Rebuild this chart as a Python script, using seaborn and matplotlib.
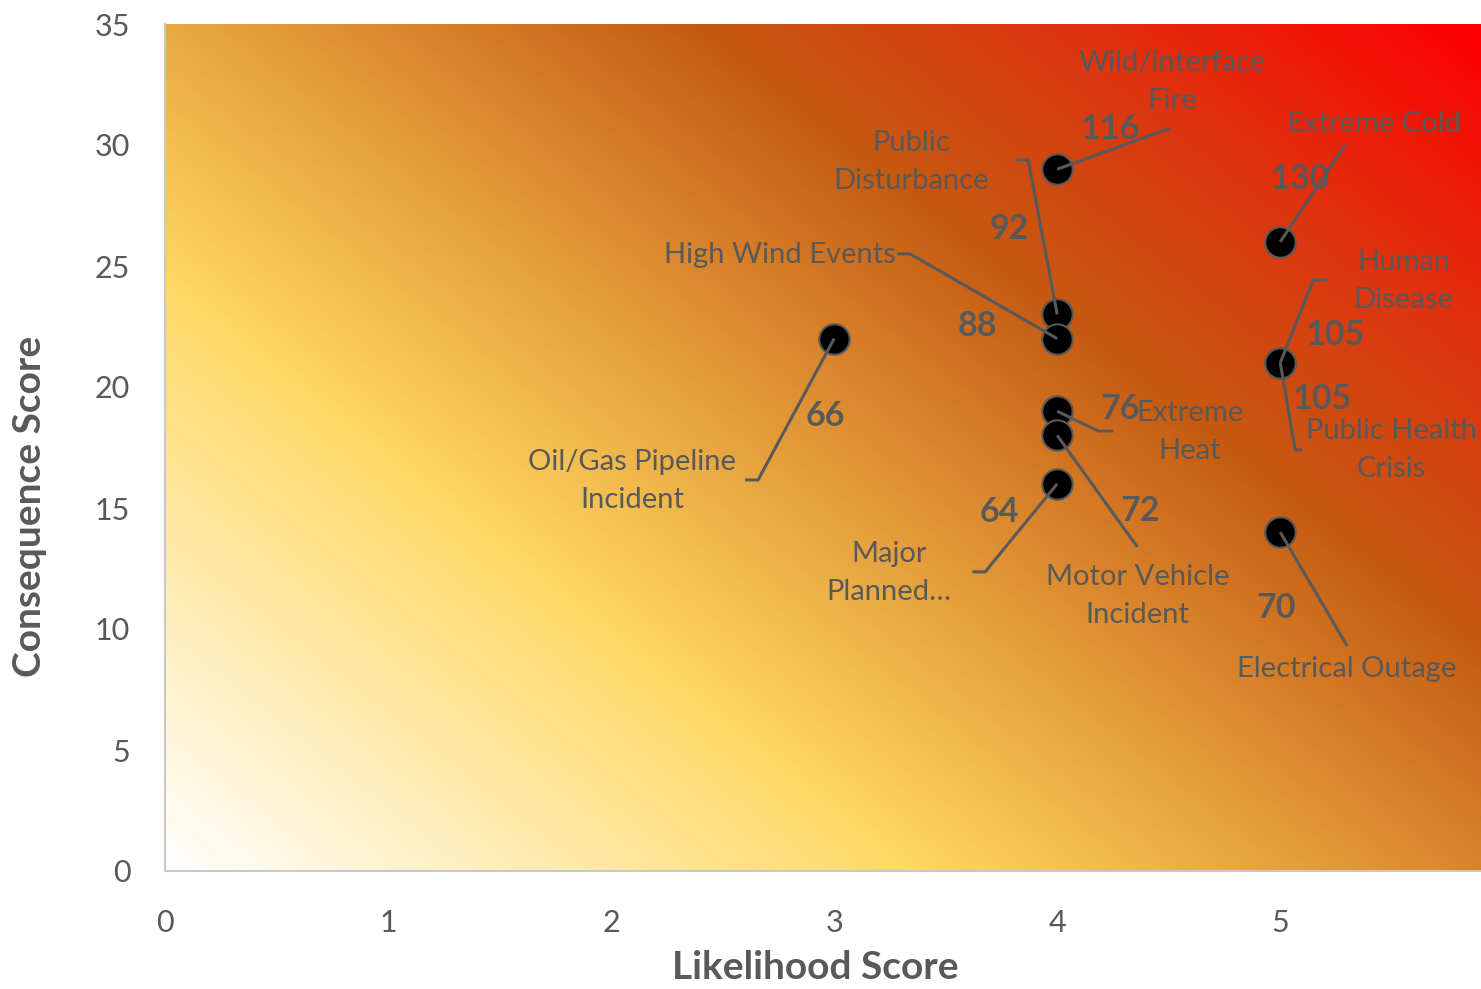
import numpy as np
import pandas as pd
import matplotlib
matplotlib.use("Agg")
import matplotlib.pyplot as plt
import seaborn as sns
from matplotlib.colors import LinearSegmentedColormap

# ---------------- data ----------------
hazards = ["Wild/interface\nFire", "Extreme Cold", "Public\nDisturbance",
           "High Wind Events", "Human\nDisease", "Oil/Gas Pipeline\nIncident",
           "Extreme\nHeat", "Public Health\nCrisis", "Major\nPlanned…",
           "Motor Vehicle\nIncident", "Electrical Outage"]
likelihood = [4, 5, 4, 4, 5, 3, 4, 5, 4, 4, 5]
consequence = [29, 26, 23, 22, 21, 22, 19, 21, 16, 18, 14]
risk_score = [116, 130, 92, 88, 105, 66, 76, 105, 64, 72, 70]
x_ticks = [0, 1, 2, 3, 4, 5]
y_ticks = [0, 5, 10, 15, 20, 25, 30, 35]

# ---------------- layout (label placement, data coords) ----------------
label_xy = [(4.516, 32.60), (5.422, 30.87), (3.345, 29.30), (2.758, 25.45),
            (5.552, 24.38), (2.094, 16.12), (4.596, 18.14), (5.498, 17.40),
            (3.247, 12.31), (4.359, 11.36), (5.300, 8.35)]
value_xy = [(4.238, 30.68), (5.090, 28.60), (3.785, 26.53), (3.641, 22.52),
            (5.247, 22.15), (2.960, 18.80), (4.283, 19.09), (5.188, 19.50),
            (3.740, 14.83), (4.372, 14.88), (4.982, 10.87)]
leader_bends = [[(4.507, 30.70)],
                [(5.291, 30.00)],
                [(3.870, 29.38), (3.812, 29.38)],
                [(3.341, 25.50), (3.283, 25.50)],
                [(5.148, 24.42), (5.215, 24.42)],
                [(2.659, 16.16), (2.601, 16.16)],
                [(4.184, 18.18), (4.251, 18.18)],
                [(5.067, 17.40), (5.099, 17.40)],
                [(3.677, 12.36), (3.619, 12.36)],
                [(4.359, 13.39)],
                [(5.300, 9.30)]]

df = pd.DataFrame({"Hazard": hazards, "Likelihood Score": likelihood,
                   "Consequence Score": consequence, "Risk": risk_score})

sns.set_theme(style="white")
plt.rcParams["font.family"] = ["Lato", "DejaVu Sans"]
grey = "#595959"

fig = plt.figure(figsize=(14.81, 9.89), dpi=100)
ax = fig.add_axes([165 / 1481, 118 / 989, 1316 / 1481, 847 / 989])

XMAX, YMAX = 5.9, 35
# background gradient (white -> gold -> dark orange -> red)
H, W = 847, 1316
u = np.arange(W)[None, :]
v = np.arange(H)[:, None]
t = (0.79 * u + v) / (0.79 * W + H)
cmap = LinearSegmentedColormap.from_list(
    "risk", [(0.0, "#FFFFFF"), (0.31, "#FFD966"), (0.47, "#E6A13D"),
             (0.67, "#C55A11"), (0.82, "#DD3510"), (1.0, "#FF0000")])
ax.imshow(t, cmap=cmap, vmin=0, vmax=1, origin="lower",
          extent=[0, XMAX, 0, YMAX], aspect="auto", zorder=0,
          interpolation="bilinear")

sns.scatterplot(data=df, x="Likelihood Score", y="Consequence Score", ax=ax,
                s=480, color="black", edgecolor=grey, linewidth=1.5, zorder=5,
                legend=False)

for i in range(len(df)):
    px, py = df["Likelihood Score"][i], df["Consequence Score"][i]
    pts = [(px, py)] + leader_bends[i]
    ax.plot([p[0] for p in pts], [p[1] for p in pts], color=grey, lw=2.2,
            zorder=6, solid_capstyle="butt", solid_joinstyle="miter")
    ax.text(*label_xy[i], df["Hazard"][i], ha="center", va="center",
            fontsize=21, color=grey, linespacing=1.6, zorder=7)
    ax.text(*value_xy[i], str(df["Risk"][i]), ha="center", va="center",
            fontsize=24.5, color=grey, fontweight="bold", zorder=7)

ax.set_xlim(0, XMAX)
ax.set_ylim(0, YMAX)
ax.set_xticks(x_ticks)
ax.set_yticks(y_ticks)
ax.tick_params(axis="both", length=0, labelsize=22, labelcolor=grey)
ax.tick_params(axis="y", pad=25)
ax.tick_params(axis="x", pad=27)
for s in ["top", "right"]:
    ax.spines[s].set_visible(False)
for s in ["left", "bottom"]:
    ax.spines[s].set_color("#C8C8C8")
    ax.spines[s].set_linewidth(1.5)

ax.set_xlabel("Likelihood Score", fontsize=28, fontweight="bold", color=grey)
ax.set_ylabel("Consequence Score", fontsize=28, fontweight="bold", color=grey)
ax.xaxis.set_label_coords(0.494, -0.1145)
ax.xaxis.label.set_va("center")
ax.yaxis.set_label_coords(-0.1026, 0.431)
ax.yaxis.label.set_va("center")

fig.savefig("out.png", dpi=100)
